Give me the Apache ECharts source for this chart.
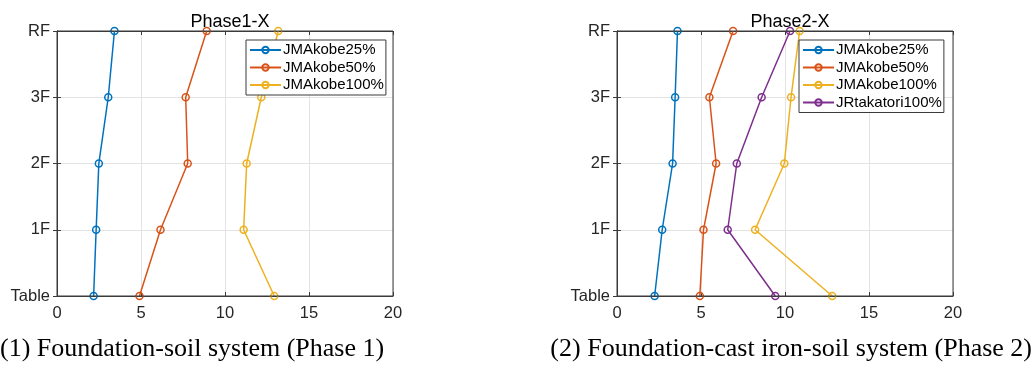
<!DOCTYPE html>
<html>
<head>
<meta charset="utf-8">
<script src="https://cdn.jsdelivr.net/npm/echarts@6/dist/echarts.min.js"></script>
<style>
html,body{margin:0;padding:0;background:#fff;}
#chart{width:1035px;height:370px;}
</style>
</head>
<body>
<div id="chart"></div>
<script>
// ---- data ----
const floors = ['Table', '1F', '2F', '3F', 'RF'];
const xTicks = [0, 5, 10, 15, 20];
const titles = ['Phase1-X', 'Phase2-X'];
const captions = ['(1) Foundation-soil system (Phase 1)', '(2) Foundation-cast iron-soil system (Phase 2)'];

// Phase 1 (values from Table to RF)
const p1_JMAkobe25 = [2.18, 2.33, 2.49, 3.05, 3.42];
const p1_JMAkobe50 = [4.91, 6.16, 7.78, 7.66, 8.91];
const p1_JMAkobe100 = [12.93, 11.11, 11.29, 12.16, 13.17];

// Phase 2
const p2_JMAkobe25 = [2.24, 2.69, 3.31, 3.46, 3.60];
const p2_JMAkobe50 = [4.93, 5.15, 5.90, 5.50, 6.91];
const p2_JMAkobe100 = [12.81, 8.22, 9.96, 10.36, 10.87];
const p2_JRtakatori100 = [9.42, 6.59, 7.13, 8.61, 10.30];

const names = ['JMAkobe25%', 'JMAkobe50%', 'JMAkobe100%', 'JRtakatori100%'];
const colors = ['#0072BD', '#D95319', '#EDB120', '#7E2F8E'];

const panels = [
  [p1_JMAkobe25, p1_JMAkobe50, p1_JMAkobe100],
  [p2_JMAkobe25, p2_JMAkobe50, p2_JMAkobe100, p2_JRtakatori100]
];

// ---- layout ----
const gridLeft = [57, 617];
const plotW = 336;
const axisColor = '#3a3a3a';
const gridColor = '#e3e3e3';
const font = 'Liberation Sans, Arial, sans-serif';

const grids = [], xAxes = [], yAxes = [], series = [], legends = [], titleArr = [];
panels.forEach((panel, g) => {
  grids.push({left: gridLeft[g], width: plotW, top: 31, height: 265, show: true,
    borderColor: axisColor, borderWidth: 1, backgroundColor: 'transparent', z: 5});
  // bottom x
  xAxes.push({type: 'value', gridIndex: g, min: 0, max: 20, interval: 5, position: 'bottom',
    axisLine: {show: true, lineStyle: {color: axisColor, width: 1}},
    axisTick: {show: true, inside: true, length: 4, lineStyle: {color: axisColor}},
    axisLabel: {show: true, color: '#262626', fontSize: 16.5, fontFamily: font, margin: 9,
      formatter: v => xTicks.includes(v) ? String(v) : ''},
    splitLine: {show: true, lineStyle: {color: gridColor, width: 1}}});
  // top x (ticks only)
  xAxes.push({type: 'value', gridIndex: g, min: 0, max: 20, interval: 5, position: 'top',
    axisLine: {show: true, lineStyle: {color: axisColor, width: 1}},
    axisTick: {show: true, inside: true, length: 4, lineStyle: {color: axisColor}},
    axisLabel: {show: false}, splitLine: {show: false}});
  // left y
  yAxes.push({type: 'category', gridIndex: g, data: floors, boundaryGap: false, position: 'left',
    axisLine: {show: true, lineStyle: {color: axisColor, width: 1}},
    axisTick: {show: true, inside: true, length: 4, lineStyle: {color: axisColor}},
    axisLabel: {show: true, color: '#262626', fontSize: 16.5, fontFamily: font, margin: 7},
    splitLine: {show: true, lineStyle: {color: gridColor, width: 1}}});
  // right y
  yAxes.push({type: 'category', gridIndex: g, data: floors, boundaryGap: false, position: 'right',
    axisLine: {show: true, lineStyle: {color: axisColor, width: 1}},
    axisTick: {show: true, inside: true, length: 4, lineStyle: {color: axisColor}},
    axisLabel: {show: false}, splitLine: {show: false}});

  panel.forEach((vals, i) => {
    series.push({
      type: 'line', name: names[i], xAxisIndex: g * 2, yAxisIndex: g * 2,
      data: floors.map((f, k) => [vals[k], f]),
      symbol: 'circle', symbolSize: 7,
      itemStyle: {color: 'rgba(255,255,255,0)', borderColor: colors[i], borderWidth: 1.5},
      lineStyle: {color: colors[i], width: 1.5},
      color: colors[i],
      z: 3, animation: false
    });
  });

  legends.push({
    data: names.slice(0, panel.length).map(n => ({name: n})),
    orient: 'vertical',
    left: g === 0 ? 246 : 799,
    top: 40,
    padding: [2.5, 2, 2.5, 3],
    itemGap: 2.5,
    itemWidth: 31,
    itemHeight: 8,
    backgroundColor: '#ffffff',
    borderColor: axisColor,
    borderWidth: 1,
    selectedMode: false,
    textStyle: {fontSize: 15, fontFamily: font, color: '#000', padding: [0, 0, 0, -3]},
    z: 10
  });

  titleArr.push({text: titles[g], left: gridLeft[g] + plotW / 2, top: 8, textAlign: 'center',
    textStyle: {fontSize: 18, fontWeight: 'normal', color: '#000', fontFamily: font}});
});

const chart = echarts.init(document.getElementById('chart'), null, {renderer: 'canvas'});
chart.setOption({
  animation: false,
  color: colors,
  title: titleArr,
  grid: grids,
  xAxis: xAxes,
  yAxis: yAxes,
  legend: legends,
  series: series,
  graphic: [
    {type: 'text', left: 0, top: 336, style: {text: captions[0], font: '26px "Liberation Serif", "Times New Roman", serif', fill: '#000'}},
    {type: 'text', right: 3, top: 336, style: {text: captions[1], font: '26px "Liberation Serif", "Times New Roman", serif', fill: '#000'}}
  ]
});
</script>
</body>
</html>
